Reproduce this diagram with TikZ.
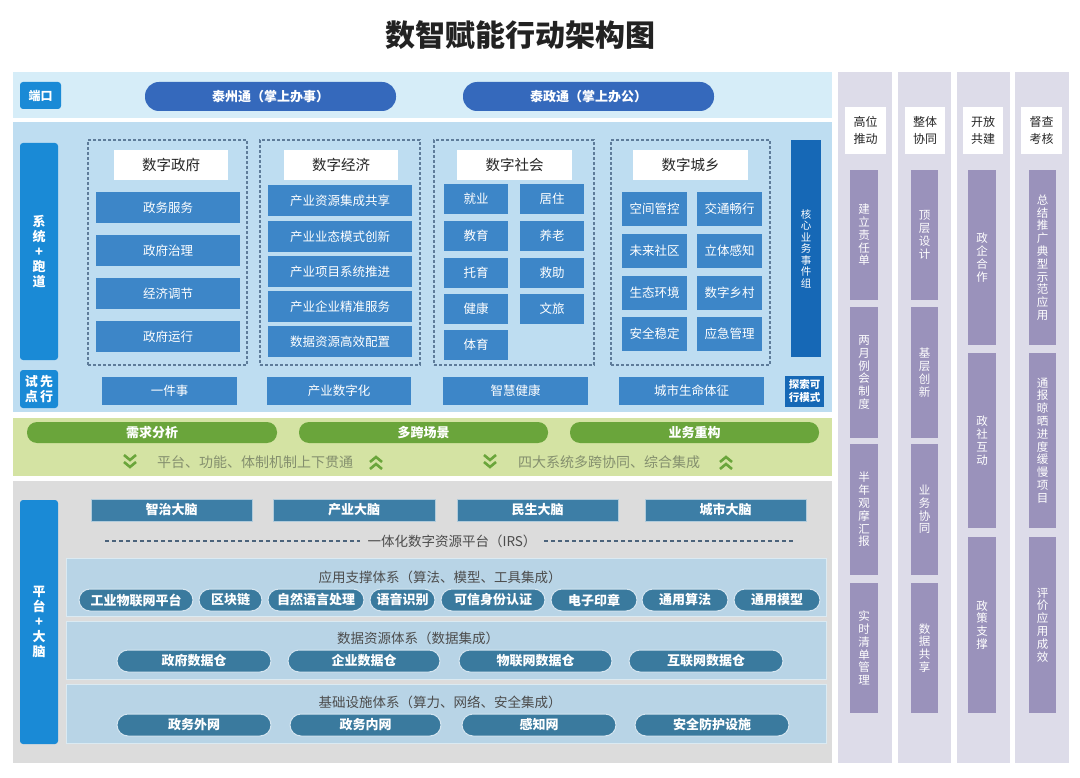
\documentclass[tikz,border=0pt]{standalone}
\usepackage{fontspec}
\setmainfont{Noto Sans CJK SC}
\definecolor{portbg}{HTML}{D6EDF8}
\definecolor{sysbg}{HTML}{BEDDF1}
\definecolor{itemblue}{HTML}{3D86C8}
\definecolor{pillblue}{HTML}{3569BC}
\definecolor{tagblue}{HTML}{1A8AD6}
\definecolor{coreblue}{HTML}{1668B6}
\definecolor{greenbg}{HTML}{D4E3A3}
\definecolor{pillgreen}{HTML}{6AA53B}
\definecolor{greentext}{HTML}{848F6E}
\definecolor{platbg}{HTML}{DCDCDC}
\definecolor{brain}{HTML}{3D7EA6}
\definecolor{subbg}{HTML}{B8D4E6}
\definecolor{pilldark}{HTML}{3A7A9E}
\definecolor{colbg}{HTML}{DDDCE9}
\definecolor{barc}{HTML}{9A92BB}
\definecolor{dashc}{HTML}{5E7C9A}
\definecolor{titlec}{HTML}{222222}
\newcommand{\mybox}[7]{\node[#6, minimum width={(#4)-(#2)}, minimum height={(#5)-(#3)}] (#1) at ({((#2)+(#4))/2},{((#3)+(#5))/2}) {#7};}
\begin{document}
\begin{tikzpicture}[x=1pt,y=-1pt,
  every node/.style={inner sep=0pt, outer sep=0pt},
  tag/.style={fill=tagblue, text=white, rounded corners=3pt, font=\fontsize{12}{15}\selectfont\bfseries, align=center},
  toppill/.style={fill=pillblue, rounded corners=14pt, text=white, font=\fontsize{13}{15}\selectfont\bfseries},
  hdr/.style={fill=white, text=black!85, font=\fontsize{14.5}{16}\selectfont},
  item/.style={fill=itemblue, text=white, font=\fontsize{12.5}{14}\selectfont},
  grp/.style={draw=dashc, dash pattern=on 3pt off 2pt, line width=1.2pt},
  corebox/.style={fill=coreblue, text=white, font=\fontsize{10.5}{11.5}\selectfont, align=center},
  gpill/.style={fill=pillgreen, rounded corners=10pt, text=white, font=\fontsize{13}{15}\selectfont\bfseries},
  gtext/.style={text=greentext, font=\fontsize{14}{16}\selectfont},
  chev/.style={draw=pillgreen, line width=2.6pt},
  brainbox/.style={fill=brain, text=white, font=\fontsize{13}{15}\selectfont\bfseries, draw=white!60!brain, line width=0.8pt},
  subpanel/.style={fill=subbg, draw=white!50!subbg, line width=1pt},
  subtitle/.style={text=black!70, font=\fontsize{13.5}{15}\selectfont},
  bpill/.style={fill=pilldark, draw=white!40!subbg, line width=1pt, rounded corners=11pt, text=white, font=\fontsize{13}{15}\selectfont\bfseries},
  irsline/.style={draw=dashc!80!black, dash pattern=on 4pt off 3pt, line width=1.6pt},
  colhdr/.style={fill=white, text=black!85, font=\fontsize{12}{17}\selectfont, align=center},
  barbox/.style={fill=barc, text=white, font=\fontsize{11.5}{12.8}\selectfont, align=center}
]
\useasboundingbox (0,0) rectangle (1080,778);
\fill[white] (0,0) rectangle (1080,778);

% title
\node[font=\fontsize{30}{34}\selectfont\bfseries, text=titlec] (title) at (520,35) {数智赋能行动架构图};

% background bands
\fill[portbg] (13,72) rectangle (832,118);
\fill[sysbg] (13,122) rectangle (832,412);
\fill[greenbg] (13,418) rectangle (832,476);
\fill[platbg] (13,481) rectangle (832,763);

% port band
\mybox{port}{20}{82}{61}{109}{tag}{端口}
\mybox{tzt}{145}{82}{396}{111}{toppill}{泰州通（掌上办事）}
\mybox{tzg}{463}{82}{714}{111}{toppill}{泰政通（掌上办公）}

% system band
\mybox{sys}{20}{143}{58}{360}{tag, font=\fontsize{13}{15}\selectfont\bfseries}{系\\统\\+\\跑\\道}
\mybox{pilot}{20}{370}{58}{408}{tag, font=\fontsize{13}{15}\selectfont\bfseries}{试\,先\\点\,行}

\mybox{g1}{88}{140}{247}{365}{grp}{}
\mybox{g2}{260}{140}{420}{365}{grp}{}
\mybox{g3}{434}{140}{594}{365}{grp}{}
\mybox{g4}{611}{140}{770}{365}{grp}{}

\mybox{h1}{114}{150}{228}{180}{hdr}{数字政府}
\mybox{h2}{284}{150}{398}{180}{hdr}{数字经济}
\mybox{h3}{457}{150}{572}{180}{hdr}{数字社会}
\mybox{h4}{633}{150}{748}{180}{hdr}{数字城乡}

% 数字政府
\mybox{a1}{96}{192}{240}{223}{item}{政务服务}
\mybox{a2}{96}{235}{240}{266}{item}{政府治理}
\mybox{a3}{96}{278}{240}{309}{item}{经济调节}
\mybox{a4}{96}{321}{240}{352}{item}{政府运行}

% 数字经济
\mybox{b1}{268}{185}{412}{216}{item}{产业资源集成共享}
\mybox{b2}{268}{221}{412}{252}{item}{产业业态模式创新}
\mybox{b3}{268}{256}{412}{287}{item}{产业项目系统推进}
\mybox{b4}{268}{291}{412}{322}{item}{产业企业精准服务}
\mybox{b5}{268}{326}{412}{357}{item}{数据资源高效配置}

% 数字社会
\mybox{c1}{444}{184}{508}{214}{item}{就业}
\mybox{c2}{520}{184}{584}{214}{item}{居住}
\mybox{c3}{444}{221}{508}{251}{item}{教育}
\mybox{c4}{520}{221}{584}{251}{item}{养老}
\mybox{c5}{444}{258}{508}{288}{item}{托育}
\mybox{c6}{520}{258}{584}{288}{item}{救助}
\mybox{c7}{444}{294}{508}{324}{item}{健康}
\mybox{c8}{520}{294}{584}{324}{item}{文旅}
\mybox{c9}{444}{330}{508}{360}{item}{体育}

% 数字城乡
\mybox{d1}{622}{192}{687}{226}{item}{空间管控}
\mybox{d2}{697}{192}{762}{226}{item}{交通畅行}
\mybox{d3}{622}{234}{687}{268}{item}{未来社区}
\mybox{d4}{697}{234}{762}{268}{item}{立体感知}
\mybox{d5}{622}{276}{687}{310}{item}{生态环境}
\mybox{d6}{697}{276}{762}{310}{item}{数字乡村}
\mybox{d7}{622}{317}{687}{351}{item}{安全稳定}
\mybox{d8}{697}{317}{762}{351}{item}{应急管理}

\mybox{core}{791}{140}{821}{357}{corebox}{核\\心\\业\\务\\事\\件\\组}

% pilot row
\mybox{p1}{102}{377}{237}{405}{item}{一件事}
\mybox{p2}{267}{377}{411}{405}{item}{产业数字化}
\mybox{p3}{443}{377}{588}{405}{item}{智慧健康}
\mybox{p4}{619}{377}{764}{405}{item}{城市生命体征}
\mybox{p5}{785}{376}{824}{407}{corebox, font=\fontsize{10.5}{13}\selectfont\bfseries}{探索可\\行模式}

% green band
\mybox{q1}{27}{422}{277}{443}{gpill}{需求分析}
\mybox{q2}{299}{422}{548}{443}{gpill}{多跨场景}
\mybox{q3}{570}{422}{819}{443}{gpill}{业务重构}
\node[gtext] (t1) at (255,462) {平台、功能、体制机制上下贯通};
\node[gtext] (t2) at (609,462) {四大系统多跨协同、综合集成};
\foreach \cx in {130,490} {
  \draw[chev] (\cx-6,455) -- (\cx,460) -- (\cx+6,455);
  \draw[chev] (\cx-6,462) -- (\cx,467) -- (\cx+6,462);
}
\foreach \cx in {376,726} {
  \draw[chev] (\cx-6,462) -- (\cx,457) -- (\cx+6,462);
  \draw[chev] (\cx-6,469) -- (\cx,464) -- (\cx+6,469);
}

% platform band
\mybox{plat}{20}{500}{58}{744}{tag, font=\fontsize{13}{15}\selectfont\bfseries}{平\\台\\+\\大\\脑}
\mybox{br1}{91}{499}{252}{521}{brainbox}{智治大脑}
\mybox{br2}{273}{499}{435}{521}{brainbox}{产业大脑}
\mybox{br3}{457}{499}{618}{521}{brainbox}{民生大脑}
\mybox{br4}{645}{499}{806}{521}{brainbox}{城市大脑}

\node[subtitle] (irs) at (452,541) {一体化数字资源平台（IRS）};
\coordinate (irsL) at (105,541);
\coordinate (irsR) at (793,541);
\draw[irsline] (irsL) -- ([xshift=-8pt]irs.west);
\draw[irsline] ([xshift=8pt]irs.east) -- (irsR);

\mybox{sp1}{66}{558}{826}{616}{subpanel}{}
\mybox{sp2}{66}{621}{826}{679}{subpanel}{}
\mybox{sp3}{66}{684}{826}{743}{subpanel}{}
\node[subtitle] (st1) at (440,577) {应用支撑体系（算法、模型、工具集成）};
\node[subtitle] (st2) at (418,638) {数据资源体系（数据集成）};
\node[subtitle] (st3) at (440,702) {基础设施体系（算力、网络、安全集成）};

\mybox{e1}{79}{589}{193}{611}{bpill}{工业物联网平台}
\mybox{e2}{199}{589}{262}{611}{bpill}{区块链}
\mybox{e3}{268}{589}{364}{611}{bpill}{自然语言处理}
\mybox{e4}{370}{589}{435}{611}{bpill}{语音识别}
\mybox{e5}{441}{589}{545}{611}{bpill}{可信身份认证}
\mybox{e6}{551}{589}{637}{611}{bpill}{电子印章}
\mybox{e7}{642}{589}{728}{611}{bpill}{通用算法}
\mybox{e8}{734}{589}{820}{611}{bpill}{通用模型}

\mybox{f1}{117}{650}{271}{672}{bpill}{政府数据仓}
\mybox{f2}{288}{650}{440}{672}{bpill}{企业数据仓}
\mybox{f3}{459}{650}{612}{672}{bpill}{物联网数据仓}
\mybox{f4}{629}{650}{783}{672}{bpill}{互联网数据仓}

\mybox{i1}{117}{714}{271}{736}{bpill}{政务外网}
\mybox{i2}{290}{714}{441}{736}{bpill}{政务内网}
\mybox{i3}{462}{714}{616}{736}{bpill}{感知网}
\mybox{i4}{635}{714}{789}{736}{bpill}{安全防护设施}

% right columns
\fill[colbg] (838,72) rectangle (892,763);
\fill[colbg] (898,72) rectangle (951,763);
\fill[colbg] (957,72) rectangle (1010,763);
\fill[colbg] (1015,72) rectangle (1069,763);

\mybox{k1}{845}{107}{886}{154}{colhdr}{高位\\推动}
\mybox{k2}{905}{107}{945}{154}{colhdr}{整体\\协同}
\mybox{k3}{963}{107}{1003}{154}{colhdr}{开放\\共建}
\mybox{k4}{1021}{107}{1062}{154}{colhdr}{督查\\考核}

\mybox{m1}{850}{170}{878}{300}{barbox}{建\\立\\责\\任\\单}
\mybox{m2}{850}{307}{878}{438}{barbox}{两\\月\\例\\会\\制\\度}
\mybox{m3}{850}{444}{878}{575}{barbox}{半\\年\\观\\摩\\汇\\报}
\mybox{m4}{850}{583}{878}{713}{barbox}{实\\时\\清\\单\\管\\理}

\mybox{n1}{911}{170}{938}{300}{barbox}{顶\\层\\设\\计}
\mybox{n2}{911}{307}{938}{438}{barbox}{基\\层\\创\\新}
\mybox{n3}{911}{444}{938}{575}{barbox}{业\\务\\协\\同}
\mybox{n4}{911}{583}{938}{713}{barbox}{数\\据\\共\\享}

\mybox{o1}{968}{170}{996}{345}{barbox}{政\\企\\合\\作}
\mybox{o2}{968}{353}{996}{528}{barbox}{政\\社\\互\\动}
\mybox{o3}{968}{537}{996}{713}{barbox}{政\\策\\支\\撑}

\mybox{r1}{1029}{170}{1056}{345}{barbox}{总\\结\\推\\广\\典\\型\\示\\范\\应\\用}
\mybox{r2}{1029}{353}{1056}{528}{barbox}{通\\报\\晾\\晒\\进\\度\\缓\\慢\\项\\目}
\mybox{r3}{1029}{537}{1056}{713}{barbox}{评\\价\\应\\用\\成\\效}
\end{tikzpicture}
\end{document}
